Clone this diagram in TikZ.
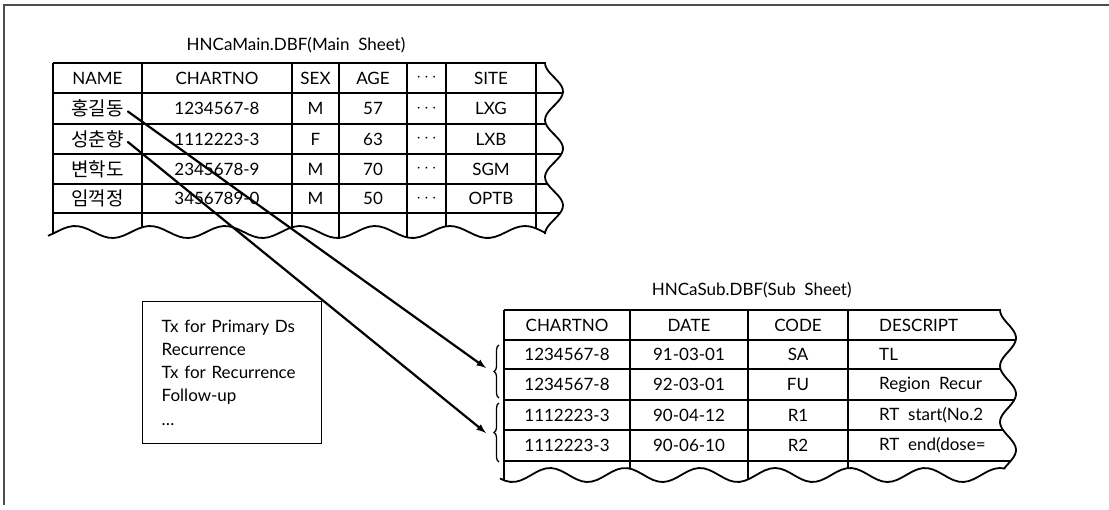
\documentclass[tikz,border=0pt]{standalone}
\usepackage{fontspec}
\setmainfont{Lato}
\newfontfamily\kofont{Noto Sans CJK KR}
\usetikzlibrary{decorations.pathreplacing}

\tikzset{
  cell/.style={inner sep=1pt, font=\fontsize{17}{20}\selectfont},
  kocell/.style={inner sep=1pt, font=\kofont\fontsize{19}{22}\selectfont},
  tabline/.style={line width=1.8pt},
  linkarrow/.style={->, >=latex, line width=2.2pt, line cap=round},
  rowbrace/.style={decorate, decoration={brace, amplitude=5pt}, line width=1.3pt},
}

\begin{document}
\begin{tikzpicture}[x=1pt, y=-1pt]
    \useasboundingbox (0,0) rectangle (1109,509);
    \draw[line width=1.6pt, black!70] (4,505) -- (4,5) -- (1109,5);

    % main sheet
    \node[cell] (maintitle) at (296,45) {HNCaMain.DBF(Main\ \ Sheet)};
    \begin{scope}
        \clip (46,63) -- (545,63)
            -- plot[domain=63:234, samples=60, variable=\t] ({554-9*cos(6.3158*(\t-63))}, \t)
            -- plot[domain=545:46, samples=100] (\x, {232-6*cos(4.8*(\x-75))}) -- cycle;
        \draw[tabline] (53,63) -- (53,260) (142,63) -- (142,260) (292,63) -- (292,260)
            (339,63) -- (339,260) (407,63) -- (407,260) (446,63) -- (446,260) (536,63) -- (536,260);
        \draw[tabline] (53,93) -- (580,93) (53,124) -- (580,124) (53,154) -- (580,154)
            (53,184) -- (580,184) (53,213) -- (580,213);
    \end{scope}
    \draw[tabline] (53,63) -- (545,63)
        -- plot[domain=63:234, samples=60, variable=\t] ({554-9*cos(6.3158*(\t-63))}, \t)
        -- plot[domain=545:48, samples=100] (\x, {232-6*cos(4.8*(\x-75))});

    \node[cell] (mh1) at (97.5,78) {NAME};
    \node[cell] (mh2) at (217,78) {CHARTNO};
    \node[cell] (mh3) at (315.5,78) {SEX};
    \node[cell] (mh4) at (373,78) {AGE};
    \node[cell] (mh5) at (426.5,78) {$\cdots$};
    \node[cell] (mh6) at (491,78) {SITE};

    \node[kocell] (hong) at (97.5,108.5) {홍길동};
    \node[cell] (m1b) at (217,108.5) {1234567-8};
    \node[cell] (m1c) at (315.5,108.5) {M};
    \node[cell] (m1d) at (373,108.5) {57};
    \node[cell] (m1e) at (426.5,108.5) {$\cdots$};
    \node[cell] (m1f) at (491,108.5) {LXG};

    \node[kocell] (seong) at (97.5,139) {성춘향};
    \node[cell] (m2b) at (217,139) {1112223-3};
    \node[cell] (m2c) at (315.5,139) {F};
    \node[cell] (m2d) at (373,139) {63};
    \node[cell] (m2e) at (426.5,139) {$\cdots$};
    \node[cell] (m2f) at (491,139) {LXB};

    \node[kocell] (byeon) at (97.5,169) {변학도};
    \node[cell] (m3b) at (217,169) {2345678-9};
    \node[cell] (m3c) at (315.5,169) {M};
    \node[cell] (m3d) at (373,169) {70};
    \node[cell] (m3e) at (426.5,169) {$\cdots$};
    \node[cell] (m3f) at (491,169) {SGM};

    \node[kocell] (im) at (97.5,198.5) {임꺽정};
    \node[cell] (m4b) at (217,198.5) {3456789-0};
    \node[cell] (m4c) at (315.5,198.5) {M};
    \node[cell] (m4d) at (373,198.5) {50};
    \node[cell] (m4e) at (426.5,198.5) {$\cdots$};
    \node[cell] (m4f) at (491,198.5) {OPTB};

    % code list
    \node[draw, line width=1.3pt, align=left, text width=141pt, inner xsep=19pt,
        minimum height=141.6pt, font=\fontsize{17}{23.3}\selectfont] (codes) at (232.2,372.5)
        {Tx for Primary Ds\\Recurrence\\Tx for Recurrence\\Follow-up\\\dots};

    % sub sheet
    \node[cell] (subtitle) at (751.7,290) {HNCaSub.DBF(Sub\ \ Sheet)};
    \begin{scope}
        \clip (498,310) -- (1000,310)
            -- plot[domain=310:468, samples=60, variable=\t] ({1008-8*cos(6.4286*(\t-310))}, \t)
            -- plot[domain=1004.5:498, samples=100] (\x, {475-7*cos(4.8*(\x-550))}) -- cycle;
        \draw[tabline] (504,310) -- (504,500) (630,310) -- (630,500) (748,310) -- (748,500)
            (848,310) -- (848,500);
        \draw[tabline] (504,340) -- (1030,340) (504,369) -- (1030,369) (504,400) -- (1030,400)
            (504,430) -- (1030,430) (504,461) -- (1030,461);
    \end{scope}
    \draw[tabline] (504,310) -- (1000,310)
        -- plot[domain=310:468, samples=60, variable=\t] ({1008-8*cos(6.4286*(\t-310))}, \t)
        -- plot[domain=1004.5:500, samples=100] (\x, {475-7*cos(4.8*(\x-550))});

    \node[cell] (sh1) at (567,325) {CHARTNO};
    \node[cell] (sh2) at (689,325) {DATE};
    \node[cell] (sh3) at (798,325) {CODE};
    \node[cell, anchor=west] (sh4) at (878,325) {DESCRIPT};

    \node[cell] (s1a) at (567,354.5) {1234567-8};
    \node[cell] (s1b) at (689,354.5) {91-03-01};
    \node[cell] (s1c) at (798,354.5) {SA};
    \node[cell, anchor=west] (s1d) at (878,354.5) {TL};

    \node[cell] (s2a) at (567,384.5) {1234567-8};
    \node[cell] (s2b) at (689,384.5) {92-03-01};
    \node[cell] (s2c) at (798,384.5) {FU};
    \node[cell, anchor=west] (s2d) at (878,384.5) {Region\ \ Recur};

    \node[cell] (s3a) at (567,415) {1112223-3};
    \node[cell] (s3b) at (689,415) {90-04-12};
    \node[cell] (s3c) at (798,415) {R1};
    \node[cell, anchor=west] (s3d) at (878,415) {RT\ \ start(No.2};

    \node[cell] (s4a) at (567,445.5) {1112223-3};
    \node[cell] (s4b) at (689,445.5) {90-06-10};
    \node[cell] (s4c) at (798,445.5) {R2};
    \node[cell, anchor=west] (s4d) at (878,445.5) {RT\ \ end(dose=};

    % record groups
    \draw[rowbrace] (499,398) -- (499,345);
    \draw[rowbrace] (499,462) -- (499,403);
    \coordinate (grpA) at (486,368);
    \coordinate (grpB) at (486,433);

    \draw[linkarrow] ([xshift=3pt,yshift=-3pt]hong.east) -- (grpA);
    \draw[linkarrow] ([xshift=3pt,yshift=-3pt]seong.east) -- (grpB);
\end{tikzpicture}
\end{document}
